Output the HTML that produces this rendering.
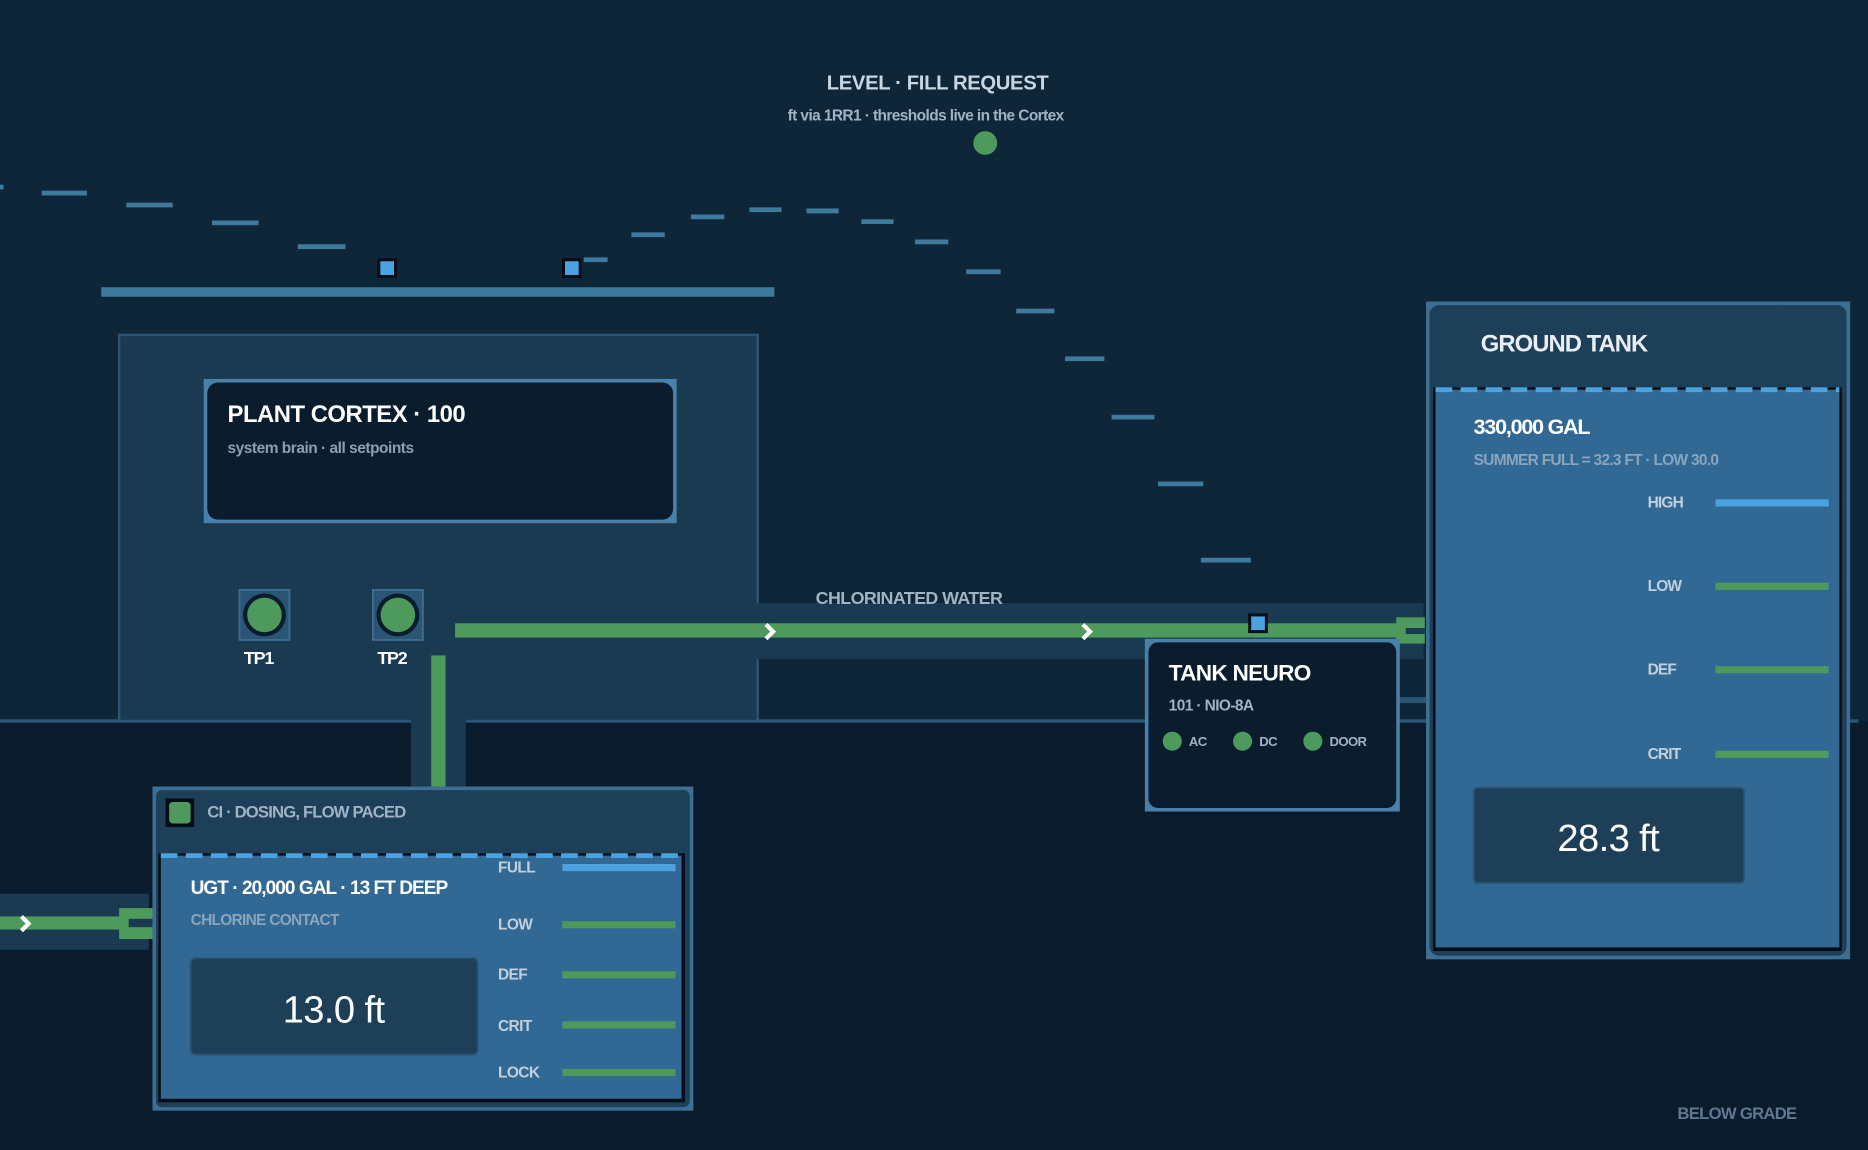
<!DOCTYPE html>
<html><head><meta charset="utf-8"><style>
html,body{margin:0;padding:0;background:#0f2538;}
svg{display:block;}
text{font-family:"Liberation Sans",sans-serif;}
</style></head><body>
<svg width="1868" height="1150" viewBox="0 0 1568 965" preserveAspectRatio="none" xmlns="http://www.w3.org/2000/svg">
<rect x="0" y="0" width="1568" height="965" fill="#0f2538"/>
<rect x="0" y="605" width="1568" height="360" fill="#0a1b2b"/>
<line x1="0" y1="605" x2="1560" y2="605" stroke="#2a5575" stroke-width="3"/>

<text x="787" y="75" text-anchor="middle" font-size="17" font-weight="bold" fill="#c8d6e2" letter-spacing="-0.3">LEVEL · FILL REQUEST</text>
<text x="777" y="101" text-anchor="middle" font-size="13" font-weight="bold" fill="#9fb3c4" letter-spacing="-0.5">ft via 1RR1 · thresholds live in the Cortex</text>
<circle cx="827" cy="120" r="10" fill="#4e9a5c"/>

<g stroke="#3d7a9e" stroke-width="4">
<line x1="0" y1="157" x2="3" y2="157"/>
<line x1="35" y1="162" x2="73" y2="162"/>
<line x1="106" y1="172" x2="145" y2="172"/>
<line x1="178" y1="187" x2="217" y2="187"/>
<line x1="250" y1="207" x2="290" y2="207"/>
<line x1="490" y1="218" x2="510" y2="218"/>
<line x1="530" y1="197" x2="558" y2="197"/>
<line x1="580" y1="182" x2="608" y2="182"/>
<line x1="629" y1="176" x2="656" y2="176"/>
<line x1="677" y1="177" x2="704" y2="177"/>
<line x1="723" y1="186" x2="750" y2="186"/>
<line x1="768" y1="203" x2="796" y2="203"/>
<line x1="811" y1="228" x2="840" y2="228"/>
<line x1="853" y1="261" x2="885" y2="261"/>
<line x1="894" y1="301" x2="927" y2="301"/>
<line x1="933" y1="350" x2="969" y2="350"/>
<line x1="972" y1="406" x2="1010" y2="406"/>
<line x1="1008" y1="470" x2="1050" y2="470"/>
</g>
<rect x="85" y="241" width="565" height="8" fill="#3d7a9e"/>
<rect x="318" y="218" width="14" height="14" fill="#4aa3e0" stroke="#050d16" stroke-width="2.5"/>
<rect x="473" y="218" width="14" height="14" fill="#4aa3e0" stroke="#050d16" stroke-width="2.5"/>

<rect x="100" y="281" width="536" height="324" fill="#1a3a52" stroke="#2a5575" stroke-width="2"/>
<rect x="171" y="318" width="397" height="121" fill="#4a80a8"/>
<rect x="174" y="321" width="391" height="115" rx="9" fill="#0b1c2d"/>
<text x="191" y="354" font-size="20" font-weight="bold" fill="#ffffff" letter-spacing="-0.4">PLANT CORTEX · 100</text>
<text x="191" y="380" font-size="13" font-weight="bold" fill="#8aa0b2" letter-spacing="-0.4">system brain · all setpoints</text>

<rect x="201" y="495" width="42" height="42" fill="#2a5575" stroke="#3d6f94" stroke-width="1.5"/>
<circle cx="222" cy="516" r="18" fill="#0b1c2d"/><circle cx="222" cy="516" r="14.5" fill="#4e9a5c"/>
<rect x="313" y="495" width="42" height="42" fill="#2a5575" stroke="#3d6f94" stroke-width="1.5"/>
<circle cx="334" cy="516" r="18" fill="#0b1c2d"/><circle cx="334" cy="516" r="14.5" fill="#4e9a5c"/>
<text x="217" y="557" text-anchor="middle" font-size="15" font-weight="bold" fill="#fff" letter-spacing="-1">TP1</text>
<text x="329" y="557" text-anchor="middle" font-size="15" font-weight="bold" fill="#fff" letter-spacing="-1">TP2</text>

<rect x="370" y="506" width="825" height="47" fill="#1a3a52"/>
<rect x="382" y="523" width="813" height="12" fill="#4e9a5c"/>
<rect x="1172" y="518" width="24" height="22" fill="#4e9a5c"/>
<rect x="1180" y="527" width="16" height="5" fill="#1a3a52"/>
<text x="763" y="507" text-anchor="middle" font-size="15" font-weight="bold" fill="#9fb3c4" letter-spacing="-0.5">CHLORINATED WATER</text>
<rect x="1049" y="516" width="14" height="14" fill="#4aa3e0" stroke="#050d16" stroke-width="2.5"/>
<rect x="345" y="550" width="46" height="115" fill="#1a3a52"/>
<rect x="362" y="550" width="12" height="110" fill="#4e9a5c"/>
<rect x="0" y="750" width="125" height="47" fill="#1a3a52"/>
<rect x="0" y="769" width="128" height="11" fill="#4e9a5c"/>
<rect x="100" y="762" width="28" height="26" fill="#4e9a5c"/>
<rect x="108" y="771" width="20" height="7" fill="#1a3a52"/>
<rect x="1172" y="585" width="26" height="5" fill="#2a5575"/>
<g fill="none" stroke="#ffffff" stroke-width="3.5" stroke-linejoin="miter">
<polyline points="643,524 649,530 643,536"/>
<polyline points="909,524 915,530 909,536"/>
<polyline points="18,769 24,775 18,781"/>
</g>

<rect x="961" y="536" width="214" height="145" fill="#4a80a8"/>
<rect x="964" y="539" width="208" height="139" rx="8" fill="#0b1c2d"/>
<text x="981" y="571" font-size="19" font-weight="bold" fill="#fff" letter-spacing="-0.6">TANK NEURO</text>
<text x="981" y="596" font-size="13" font-weight="bold" fill="#9fb3c4" letter-spacing="-0.5">101 · NIO-8A</text>
<circle cx="984" cy="622" r="8" fill="#4e9a5c"/><text x="998" y="626" font-size="11" font-weight="bold" fill="#9fb3c4" letter-spacing="-0.5">AC</text>
<circle cx="1043" cy="622" r="8" fill="#4e9a5c"/><text x="1057" y="626" font-size="11" font-weight="bold" fill="#9fb3c4" letter-spacing="-0.5">DC</text>
<circle cx="1102" cy="622" r="8" fill="#4e9a5c"/><text x="1116" y="626" font-size="11" font-weight="bold" fill="#9fb3c4" letter-spacing="-0.5">DOOR</text>

<rect x="1197" y="253" width="356" height="552" fill="#3d6f94"/>
<rect x="1200" y="256" width="350" height="546" rx="8" fill="#1e3f58"/>
<rect x="1203" y="325" width="343" height="473" fill="#050d16"/>
<rect x="1205" y="327" width="339" height="468" fill="#326894"/>
<line x1="1205" y1="327" x2="1544" y2="327" stroke="#4aa3e0" stroke-width="4" stroke-dasharray="14,7"/>
<text x="1243" y="295" font-size="20" font-weight="bold" fill="#e8eef4" letter-spacing="-0.8">GROUND TANK</text>
<text x="1237" y="364" font-size="18" font-weight="bold" fill="#fff" letter-spacing="-1">330,000 GAL</text>
<text x="1237" y="390" font-size="13" font-weight="bold" fill="#8aa5bc" letter-spacing="-0.6">SUMMER FULL = 32.3 FT · LOW 30.0</text>
<g font-size="13" font-weight="bold" fill="#c0d0dc" letter-spacing="-0.7">
<text x="1383" y="426">HIGH</text><text x="1383" y="496">LOW</text><text x="1383" y="566">DEF</text><text x="1383" y="637">CRIT</text></g>
<rect x="1440" y="419" width="95" height="6" fill="#4aa3e0"/>
<rect x="1440" y="489" width="95" height="6" fill="#4e9a5c"/>
<rect x="1440" y="559" width="95" height="6" fill="#4e9a5c"/>
<rect x="1440" y="630" width="95" height="6" fill="#4e9a5c"/>
<rect x="1237" y="661" width="227" height="80" rx="3" fill="#1e3f58" stroke="#2a5575" stroke-width="1.5"/>
<text x="1350" y="714" text-anchor="middle" font-size="32" fill="#ffffff" letter-spacing="-0.5">28.3 ft</text>

<rect x="128" y="660" width="454" height="272" fill="#3d6f94"/>
<rect x="131" y="663" width="448" height="266" rx="5" fill="#1e3f58"/>
<rect x="133" y="716" width="442" height="209" fill="#050d16"/>
<rect x="135" y="718" width="437" height="204" fill="#326894"/>
<line x1="135" y1="718" x2="572" y2="718" stroke="#4aa3e0" stroke-width="4" stroke-dasharray="14,7"/>
<rect x="139" y="670" width="24" height="24" fill="#050d16"/>
<rect x="142" y="673" width="18" height="18" rx="3" fill="#4e9a5c"/>
<text x="174" y="686" font-size="14" font-weight="bold" fill="#9fb3c4" letter-spacing="-0.7">CI · DOSING, FLOW PACED</text>
<text x="160" y="750" font-size="16" font-weight="bold" fill="#fff" letter-spacing="-0.8">UGT · 20,000 GAL · 13 FT DEEP</text>
<text x="160" y="776" font-size="13" font-weight="bold" fill="#8aa5bc" letter-spacing="-0.6">CHLORINE CONTACT</text>
<g font-size="13" font-weight="bold" fill="#c0d0dc" letter-spacing="-0.5">
<text x="418" y="732">FULL</text><text x="418" y="780">LOW</text><text x="418" y="822">DEF</text><text x="418" y="865">CRIT</text><text x="418" y="904">LOCK</text></g>
<rect x="472" y="725" width="95" height="6" fill="#4aa3e0"/>
<rect x="472" y="773" width="95" height="6" fill="#4e9a5c"/>
<rect x="472" y="815" width="95" height="6" fill="#4e9a5c"/>
<rect x="472" y="857" width="95" height="6" fill="#4e9a5c"/>
<rect x="472" y="897" width="95" height="6" fill="#4e9a5c"/>
<rect x="160" y="804" width="241" height="81" rx="4" fill="#1e3f58" stroke="#2a5575" stroke-width="1.5"/>
<text x="280" y="858" text-anchor="middle" font-size="32" fill="#ffffff" letter-spacing="-0.5">13.0 ft</text>

<text x="1458" y="939" text-anchor="middle" font-size="14" font-weight="bold" fill="#5f7890" letter-spacing="-0.6">BELOW GRADE</text>
</svg>
</body></html>
